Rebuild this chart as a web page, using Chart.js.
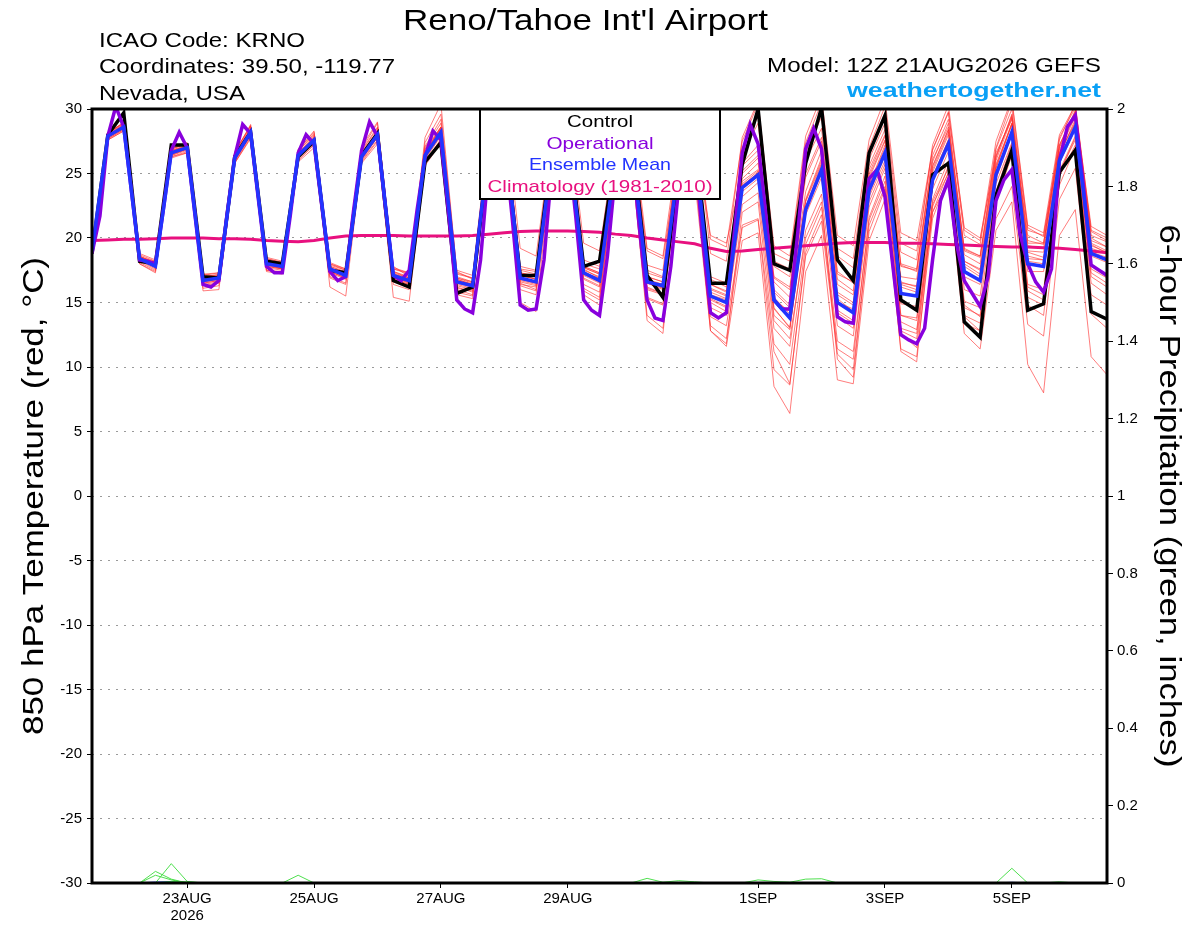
<!DOCTYPE html>
<html>
<head>
<meta charset="utf-8">
<title>Reno/Tahoe Int'l Airport - GEFS</title>
<script src="https://cdn.jsdelivr.net/npm/chart.js@4.4.0/dist/chart.umd.min.js"></script>
<style>
  html, body { margin: 0; padding: 0; background: #fff; }
  canvas { display: block; }
</style>
</head>
<body>
<canvas id="mycanvas" width="1200" height="927"></canvas>
<script>
// 12Z 21AUG2026 run, 6-hourly steps out to 384 h (operational is 3-hourly)

// x axis labels (hours after 12Z 21AUG)
var tickHours = [36, 84, 132, 180, 252, 300, 348];
var tickLabels = [["23AUG", "2026"], "25AUG", "27AUG", "29AUG", "1SEP", "3SEP", "5SEP"];

// 850 hPa temperature, deg C
var control = [18.8, 28.0,29.7,18.2,18.0, 27.2,27.2,17.0,16.9, 26.3,28.2,18.2,18.0, 26.3,27.5,17.5,17.3,
  26.4,28.1,16.7,16.2, 25.9,27.4,15.7,16.2, 26.5,28.0,17.1,17.1, 26.8,28.3,17.8,18.2, 26.5,28.0,17.1,15.4,
  25.5,27.8,16.5,16.5, 25.7,30.0,18.0,17.5, 25.8,30.1,18.3,16.7, 26.6,29.5,15.2,14.4, 24.9,25.8,13.5,12.3,
  23.3,26.8,14.4,14.9, 25.1,26.8,14.3,13.7];

var ensMean = [19.0, 27.9,28.6,18.4,17.8, 26.6,27.0,16.7,16.9, 26.2,28.2,18.0,17.8, 26.4,27.6,17.6,17.1,
  26.3,28.0,17.1,16.7, 26.4,28.2,16.6,16.3, 26.8,28.3,16.9,16.6, 26.5,28.0,17.3,16.7, 26.0,27.6,16.6,16.3,
  25.8,27.3,15.5,15.0, 23.9,24.9,15.2,13.8, 22.2,25.3,15.0,14.2, 23.7,26.6,15.7,15.5, 24.5,27.3,17.4,16.7,
  24.9,28.2,18.0,17.8, 26.0,28.6,18.8,18.3];

// operational run, every 3 h
var operational = [18.8,21.7,27.9,30.2,28.6,23.5,18.3,18.2, 18.0,22.2,26.8,28.2,27.0,21.7,16.4,16.2,
  16.7,21.7,26.3,28.8,28.1,22.9,17.8,17.3, 17.3,21.7,26.6,28.0,27.3,22.4,17.4,16.7,
  17.0,22.2,26.8,29.0,27.9,22.4,17.1,16.7, 17.5,22.2,26.3,28.3,27.6,21.7,15.2,14.5,
  14.2,18.3,25.5,28.6,27.6,21.5,14.8,14.4, 14.5,18.3,25.5,28.5,27.5,21.7,15.2,14.4,
  14.0,18.6,25.0,28.0,27.5,21.0,15.2,13.8, 13.6,17.8,24.0,27.5,27.0,20.0,14.2,13.8,
  14.2,20.4,26.6,28.8,27.3,21.7,15.2,14.5, 14.5,20.4,26.9,28.5,26.9,20.4,13.9,13.5,
  13.4,19.1,24.6,25.3,23.2,17.8,12.5,12.1, 11.8,13.0,18.3,22.9,24.5,19.6,16.7,15.7,
  14.7,17.0,22.9,24.5,25.3,20.4,18.0,16.6, 15.8,17.6,26.0,28.6,29.5,24.2,17.9,17.5,
  17.1];

var climatology = [19.8, 19.85,19.9,19.9,19.95, 20.0,20.0,20.0,19.95, 19.95,19.9,19.8,19.75, 19.7,19.8,20.0,20.15,
  20.2,20.2,20.2,20.15, 20.15,20.15,20.15,20.2, 20.3,20.4,20.5,20.55, 20.55,20.55,20.5,20.45, 20.3,20.2,20.0,19.85,
  19.7,19.55,19.2,18.95, 19.0,19.1,19.2,19.3, 19.4,19.5,19.6,19.65, 19.65,19.65,19.6,19.6, 19.55,19.5,19.45,19.4,
  19.35,19.3,19.3,19.25, 19.2,19.1,19.0,18.85];

// ensemble members
var m01 = [19.2, 28.1,29.0,18.6,18.1, 26.9,27.4,17.0,17.2, 26.5,28.6,18.3,18.0, 26.8,28.0,17.9,17.5, 26.7,28.5,17.6,17.2, 27.0,28.9,17.3,16.9, 27.5,29.1,17.6,17.4, 27.3,29.0,18.0,17.6, 27.1,28.8,17.5,17.0, 26.9,28.6,16.8,16.2, 26.5,28.9,17.8,17.0, 26.0,28.5,17.4,16.5, 26.1,28.9,18.0,17.6, 26.4,29.2,19.0,18.5, 26.3,29.5,19.4,19.2, 27.2,29.8,19.8,19.3];
var m02 = [18.9, 27.7,28.4,18.2,17.6, 26.3,26.7,16.4,16.6, 25.9,27.9,17.7,17.5, 26.1,27.3,17.3,16.8, 26.0,27.6,16.6,16.2, 25.8,27.7,16.0,15.6, 26.2,27.8,16.3,15.9, 25.9,27.3,16.4,15.8, 25.2,26.7,15.4,14.9, 24.6,25.8,13.9,13.2, 21.0,21.5,11.2,8.7, 18.6,21.3,11.0,9.8, 20.5,23.8,12.8,12.2, 22.0,25.1,14.6,14.0, 22.8,26.4,15.9,15.2, 24.1,27.0,16.5,15.6];
var m03 = [19.0, 27.9,28.7,18.5,17.9, 26.7,27.1,16.9,17.1, 26.3,28.3,18.0,17.6, 26.2,27.5,17.4,16.9, 26.1,27.8,16.9,16.5, 26.2,28.0,16.2,15.8, 26.4,27.9,16.5,16.0, 25.6,26.9,15.9,15.2, 25.0,26.2,14.0,13.0, 23.8,24.6,12.8,11.6, 19.8,20.4,8.5,6.4, 17.4,20.2,9.0,8.7, 19.8,23.0,11.4,10.8, 21.5,24.8,13.4,12.8, 23.6,27.3,16.2,15.6, 25.0,27.8,17.3,16.5];
var m04 = [19.1, 28.0,28.8,18.6,18.0, 26.8,27.2,17.1,17.3, 26.6,28.7,18.4,18.1, 26.9,28.2,18.0,17.5, 26.8,28.6,17.6,17.3, 27.1,29.2,17.2,16.9, 27.6,29.4,17.8,17.5, 27.6,29.3,18.3,17.8, 27.4,29.4,19.2,18.6, 27.5,29.8,18.8,18.2, 27.8,30.6,18.8,18.2, 27.4,30.5,19.2,18.4, 27.0,30.2,19.6,19.0, 26.8,29.8,20.2,19.5, 27.0,30.6,20.8,20.1, 27.6,30.4,20.5,19.8];
var m05 = [18.8, 27.8,28.5,18.3,17.7, 26.5,26.9,16.6,16.8, 26.0,28.1,17.8,17.6, 26.3,27.6,17.6,17.0, 26.2,27.9,17.0,16.5, 26.5,28.4,16.7,16.4, 26.9,28.6,17.1,16.8, 26.8,28.4,17.6,16.9, 26.3,28.0,16.7,16.1, 25.7,27.2,15.2,14.6, 24.1,25.0,14.6,13.0, 22.4,25.7,14.2,13.4, 23.2,26.0,14.0,13.6, 22.8,25.4,14.8,13.9, 21.5,24.0,13.3,12.4, 23.0,25.4,14.1,13.0];
var m06 = [19.0, 28.2,28.9,18.8,18.3, 26.4,26.8,17.2,17.0, 26.4,28.0,18.5,18.2, 26.6,27.8,18.1,17.6, 26.6,28.3,17.8,17.0, 26.9,28.6,17.0,16.6, 27.2,28.8,17.2,16.8, 26.7,28.2,17.8,17.3, 26.5,28.1,19.0,18.4, 26.2,27.6,16.1,15.6, 25.2,26.4,16.6,15.4, 23.6,26.8,16.8,15.9, 25.3,28.0,17.9,17.4, 26.1,28.6,19.2,18.6, 26.6,29.2,19.8,19.5, 27.8,30.1,20.9,20.2];
var m07 = [19.0, 27.6,28.3,18.0,17.3, 26.2,26.6,16.1,16.3, 25.8,27.7,17.4,17.2, 25.9,27.0,16.9,16.4, 25.8,27.3,15.4,15.1, 25.6,27.4,15.6,15.3, 25.9,27.6,16.0,15.6, 25.6,27.0,16.1,15.4, 24.9,26.4,13.6,12.6, 24.2,25.6,12.8,11.8, 22.0,22.8,11.8,10.2, 19.5,22.4,12.0,11.2, 21.4,24.4,12.6,11.5, 22.6,25.0,13.9,12.8, 23.1,26.6,14.8,14.0, 24.8,27.2,15.6,14.8];
var m08 = [19.1, 28.0,28.6,18.4,17.9, 26.7,27.2,16.8,17.0, 26.4,28.4,18.1,17.9, 26.5,27.7,17.7,17.2, 26.4,28.1,17.2,16.9, 26.6,28.5,16.9,16.5, 27.0,28.7,17.3,17.0, 27.0,28.6,17.7,17.2, 26.8,28.5,17.3,16.9, 26.9,28.6,17.0,16.5, 27.0,29.4,18.2,17.6, 26.6,29.4,18.6,17.7, 26.4,29.5,18.9,18.3, 27.2,30.3,20.6,19.8, 27.5,30.8,21.0,20.4, 28.0,30.3,20.0,19.3];
var m09 = [18.9, 27.8,28.5,18.3,17.8, 26.6,26.9,16.5,16.7, 26.1,28.0,17.9,17.7, 26.3,27.4,17.4,16.9, 26.2,27.8,16.9,16.6, 26.3,28.1,16.5,16.2, 26.7,28.2,16.8,16.5, 26.4,27.8,17.1,16.5, 25.8,27.3,16.2,15.7, 25.4,26.9,15.3,14.7, 23.6,24.6,14.5,13.1, 21.8,24.7,13.9,13.0, 22.8,25.7,13.5,12.9, 22.0,24.4,12.6,11.4, 20.6,22.8,10.2,8.0, 20.2,22.2,10.8,9.4];
var m10 = [19.0, 27.9,28.7,18.5,18.0, 26.6,27.0,16.9,16.9, 26.3,28.3,18.1,17.9, 26.4,27.7,17.6,17.2, 26.4,28.0,17.1,16.8, 26.5,28.3,16.7,16.4, 26.7,28.3,16.8,16.5, 26.6,28.1,17.4,16.8, 26.2,27.7,16.6,16.4, 26.3,27.9,16.4,15.8, 25.8,27.2,17.0,16.2, 25.0,27.8,17.2,16.6, 25.6,28.4,17.8,17.5, 25.9,28.9,19.1,18.6, 26.9,30.0,20.6,20.2, 27.0,29.5,19.5,18.8];
var m11 = [19.1, 28.1,28.9,18.5,18.2, 26.9,27.3,17.0,17.1, 26.6,28.8,18.3,18.0, 26.7,28.1,17.8,17.4, 26.9,28.9,17.4,17.0, 27.8,30.4,17.4,16.8, 27.9,29.8,17.5,17.2, 27.2,28.8,17.7,17.2, 26.7,28.4,17.0,16.6, 26.4,27.9,20.2,19.6, 25.0,26.2,15.8,14.6, 22.9,26.0,15.6,14.8, 24.6,27.5,16.6,16.2, 25.3,28.2,18.2,17.5, 25.6,28.8,18.9,18.5, 26.6,28.9,19.4,18.9];
var m12 = [18.9, 27.7,28.4,18.1,17.5, 26.4,26.9,16.3,16.5, 26.0,28.0,17.5,17.4, 26.2,27.5,16.2,15.5, 26.1,27.8,16.8,16.4, 26.2,28.1,16.1,15.9, 26.6,28.2,16.4,16.2, 26.3,27.7,16.9,16.3, 25.7,27.1,16.0,15.6, 25.2,26.5,14.6,14.0, 22.6,23.5,13.0,11.6, 20.6,23.4,13.2,12.4, 22.4,25.4,14.0,13.8, 23.8,26.7,16.0,15.5, 24.6,28.0,17.4,17.4, 25.8,28.4,18.6,18.1];
var m13 = [19.0, 28.0,28.7,18.4,17.8, 26.6,27.0,16.8,16.9, 26.2,28.2,18.0,17.8, 26.4,27.6,17.6,17.1, 26.3,28.1,17.2,16.8, 26.4,28.3,16.6,16.2, 26.8,28.4,16.9,16.6, 26.5,27.9,17.2,16.6, 26.0,27.5,16.5,16.0, 25.9,27.3,15.6,15.2, 24.6,25.8,16.0,14.8, 23.0,26.2,15.8,15.0, 24.8,27.6,17.0,16.8, 25.6,28.4,18.7,18.0, 26.2,29.6,19.6,19.6, 27.1,29.8,20.2,19.7];
var m14 = [19.0, 27.9,28.6,18.3,17.7, 26.5,26.9,16.6,16.8, 26.1,28.1,17.9,17.6, 26.3,27.5,17.4,16.9, 26.2,27.9,16.8,16.4, 26.1,27.9,16.3,16.0, 26.5,28.1,16.6,16.3, 26.2,27.6,16.8,16.2, 25.6,27.2,16.1,15.7, 25.5,27.0,15.0,14.3, 23.2,24.3,13.6,12.2, 20.0,22.8,10.6,9.2, 21.0,24.0,11.2,10.4, 22.4,25.6,14.0,13.4, 23.4,26.8,15.4,14.8, 25.1,27.6,17.0,16.2];
var m15 = [19.1, 28.1,28.8,18.6,18.0, 26.8,27.1,16.9,17.0, 26.4,28.5,18.2,17.9, 26.6,27.9,17.8,17.3, 26.5,28.3,17.4,16.9, 26.6,28.6,16.9,16.6, 27.1,28.9,17.3,17.1, 27.0,28.7,17.8,17.3, 26.7,28.2,17.0,16.6, 26.4,28.0,16.4,15.9, 25.6,26.8,16.9,16.0, 24.7,27.5,16.4,15.6, 25.0,27.9,16.2,15.8, 24.7,27.6,17.8,17.0, 25.4,28.9,18.6,18.3, 26.4,29.2,18.9,18.5];
var m16 = [18.8, 27.6,28.3,18.0,17.4, 26.3,26.6,15.9,16.0, 25.8,27.8,17.5,17.3, 26.0,27.2,17.0,16.5, 25.9,27.5,16.4,16.0, 25.9,27.6,15.8,15.5, 26.1,27.6,15.0,14.3, 25.9,27.3,15.6,14.8, 25.0,26.6,15.3,14.8, 24.2,25.4,13.2,12.2, 20.8,21.4,9.8,8.6, 18.9,21.8,11.4,10.6, 21.6,24.8,13.0,12.6, 23.0,26.0,15.1,14.6, 24.2,27.4,16.4,16.0, 25.2,27.9,17.6,16.9];
var m17 = [19.2, 28.2,28.9,18.7,18.2, 26.9,27.3,17.2,17.3, 26.7,28.7,18.4,18.1, 26.8,28.3,18.0,17.6, 27.1,29.0,17.7,17.3, 27.4,29.6,17.5,17.1, 28.0,30.2,19.2,18.6, 27.8,29.9,19.6,19.0, 27.6,29.6,17.9,17.5, 27.3,29.5,19.9,19.3, 27.5,30.4,19.4,18.6, 27.9,31.0,20.2,19.4, 27.6,30.8,20.4,19.8, 26.9,29.7,20.8,20.0, 26.4,29.4,20.2,19.6, 27.2,29.9,20.6,20.0];
var m18 = [19.0, 27.8,28.5,18.3,17.8, 26.6,27.0,16.7,16.9, 26.2,28.2,18.0,17.7, 26.4,27.6,17.5,17.0, 26.3,28.0,17.0,16.6, 26.4,28.2,16.4,16.1, 26.7,28.2,16.7,16.4, 26.5,28.0,17.2,16.7, 26.0,27.4,16.5,16.1, 25.6,27.0,15.4,15.0, 24.0,25.1,14.0,12.9, 22.2,25.0,14.4,13.6, 23.4,26.4,14.9,14.7, 24.8,27.6,17.0,16.4, 25.4,28.8,18.2,18.0, 26.2,28.8,18.8,18.4];
var m19 = [18.9, 27.9,28.6,18.4,17.9, 26.5,27.0,16.5,16.7, 26.2,28.2,17.8,17.6, 26.4,27.7,17.5,17.1, 26.3,28.1,17.0,16.7, 26.7,28.6,16.8,16.4, 26.9,28.5,16.9,16.6, 26.7,28.2,17.3,16.9, 26.1,27.6,16.7,16.4, 26.0,27.6,16.0,15.5, 24.4,25.3,15.2,14.3, 22.8,25.8,15.3,14.3, 24.1,27.2,16.5,16.3, 25.5,28.4,18.2,17.6, 26.0,29.3,19.0,18.9, 26.8,29.4,19.6,19.0];
var m20 = [19.0, 28.0,28.7,18.5,17.9, 26.7,27.1,16.8,17.0, 26.3,28.3,18.1,17.9, 26.5,27.8,17.7,17.2, 26.4,28.2,17.3,16.9, 26.6,28.5,16.8,16.4, 26.9,28.5,17.1,16.8, 26.8,28.3,17.5,17.0, 26.2,27.7,16.8,16.4, 25.9,27.4,15.8,15.3, 24.2,25.2,15.4,14.1, 22.4,25.4,15.0,14.5, 24.0,27.0,16.4,16.0, 25.1,28.0,18.0,17.2, 25.7,28.9,18.4,18.3, 26.6,29.0,19.2,18.8];
var members = [m01, m02, m03, m04, m05, m06, m07, m08, m09, m10, m11, m12, m13, m14, m15, m16, m17, m18, m19, m20];

// 6-hour precipitation, inches (members that had any, plus the mean)
var pcpA = [0,0,0,0,0.03, 0.01,0,0,0,0, 0,0,0,0,0, 0,0,0,0,0, 0,0,0,0,0, 0,0,0,0,0, 0,0,0,0,0, 0,0,0,0,0, 0,0,0,0,0, 0,0,0,0,0, 0,0,0,0,0, 0,0,0,0,0, 0,0,0,0,0];
var pcpB = [0,0,0,0,0, 0.05,0.004,0,0,0, 0,0,0,0,0, 0,0,0,0,0, 0,0,0,0,0, 0,0,0,0,0, 0,0,0,0,0, 0,0,0,0,0, 0,0,0,0,0, 0,0,0,0,0, 0,0,0,0,0, 0,0,0,0,0, 0,0,0,0,0];
var pcpC = [0,0,0,0,0.02, 0.008,0,0,0,0, 0,0,0,0,0, 0,0,0,0,0, 0,0,0,0,0, 0,0,0,0,0, 0,0,0,0,0, 0,0,0,0,0, 0,0,0,0,0, 0,0,0,0,0, 0,0,0,0,0, 0,0,0,0,0, 0,0,0,0,0];
var pcpD = [0,0,0,0,0, 0,0,0,0,0, 0,0,0,0.02,0, 0,0,0,0,0, 0,0,0,0,0, 0,0,0,0,0, 0,0,0,0,0, 0,0,0,0,0, 0,0,0,0,0, 0,0,0,0,0, 0,0,0,0,0, 0,0,0,0,0, 0,0,0,0,0];
var pcpE = [0,0,0,0,0, 0,0,0,0,0, 0,0,0,0,0, 0,0,0,0,0, 0,0,0,0,0, 0,0,0,0,0, 0,0,0,0,0, 0.012,0.002,0.006,0.003,0, 0,0,0,0,0, 0,0,0,0,0, 0,0,0,0,0, 0,0,0,0,0, 0,0,0,0,0];
var pcpF = [0,0,0,0,0, 0,0,0,0,0, 0,0,0,0,0, 0,0,0,0,0, 0,0,0,0,0, 0,0,0,0,0, 0,0,0,0,0, 0,0,0,0,0, 0,0,0.008,0.004,0.002, 0.01,0.011,0,0,0, 0,0,0,0,0, 0,0,0,0,0, 0,0,0,0,0];
var pcpG = [0,0,0,0,0, 0,0,0,0,0, 0,0,0,0,0, 0,0,0,0,0, 0,0,0,0,0, 0,0,0,0,0, 0,0,0,0,0, 0,0,0,0,0, 0,0,0,0,0, 0,0,0,0,0, 0,0,0,0,0, 0,0,0,0.038,0, 0,0,0,0,0];
var pcpH = [0,0,0,0,0, 0.004,0.003,0,0,0, 0,0,0,0,0, 0,0,0,0,0, 0,0,0,0,0, 0,0,0,0,0, 0,0,0,0,0, 0,0,0,0,0, 0,0,0,0,0, 0,0,0,0,0, 0,0,0,0,0, 0,0,0,0,0, 0,0.003,0,0,0];
var pcpMean = [0,0,0,0,0.003, 0.004,0.001,0,0,0, 0,0,0,0,0, 0,0,0,0,0, 0,0,0,0,0, 0,0,0,0,0, 0,0,0,0,0, 0,0,0,0,0, 0,0,0,0,0, 0,0,0,0,0, 0,0,0,0,0, 0,0,0,0.002,0, 0,0,0,0,0];
var pcpMembers = [pcpA, pcpB, pcpC, pcpD, pcpE, pcpF, pcpG, pcpH];

var FONT = '"Liberation Sans", Arial, Helvetica, sans-serif';

function toPoints(vals, step) {
    return vals.map(function (v, i) { return { x: i * step, y: v }; });
}

// text drawn at a given size, then squeezed/stretched to a measured width
function fitText(ctx, text, x, y, size, width, opts) {
    opts = opts || {};
    ctx.save();
    ctx.font = (opts.bold ? 'bold ' : '') + size + 'px ' + FONT;
    var sx = width / ctx.measureText(text).width;
    ctx.translate(x, y);
    if (opts.rot) ctx.rotate(opts.rot);
    ctx.scale(sx, 1);
    ctx.textAlign = opts.align || 'left';
    ctx.textBaseline = 'alphabetic';
    ctx.fillStyle = opts.color || '#000';
    ctx.fillText(text, 0, 0);
    ctx.restore();
}

var datasets = [];

datasets.push({ label: 'Ensemble Mean', data: toPoints(ensMean, 6), borderColor: '#2233ff', borderWidth: 3.5, yAxisID: 'y', order: 0 });
datasets.push({ label: 'Operational', data: toPoints(operational, 3), borderColor: '#8800dd', borderWidth: 3.5, yAxisID: 'y', order: 1 });
datasets.push({ label: 'Control', data: toPoints(control, 6), borderColor: '#000000', borderWidth: 3.5, yAxisID: 'y', order: 2 });
datasets.push({ label: 'Climatology', data: toPoints(climatology, 6), borderColor: '#e8107f', borderWidth: 3, yAxisID: 'y', order: 3 });

for (var k = 0; k < members.length; k++) {
    datasets.push({ label: 'member ' + (k + 1), data: toPoints(members[k], 6), borderColor: 'rgba(255,45,45,0.62)', borderWidth: 1, yAxisID: 'y', order: 4 });
}
for (var p = 0; p < pcpMembers.length; p++) {
    datasets.push({ label: 'pcp ' + (p + 1), data: toPoints(pcpMembers[p], 6), borderColor: 'rgba(60,220,60,0.9)', borderWidth: 1, yAxisID: 'y2', order: 5 });
}
datasets.push({ label: 'pcp mean', data: toPoints(pcpMean, 6), borderColor: 'rgba(60,80,255,0.8)', borderWidth: 1, yAxisID: 'y2', order: 5 });

var decorations = {
    id: 'decorations',
    beforeDraw: function (chart) {
        var ctx = chart.ctx;
        ctx.save();
        ctx.fillStyle = '#fff';
        ctx.fillRect(0, 0, chart.width, chart.height);
        ctx.restore();
    },
    afterDatasetsDraw: function (chart) {
        var ctx = chart.ctx;
        var a = chart.chartArea;

        // legend box
        ctx.save();
        ctx.fillStyle = '#fff';
        ctx.fillRect(480, a.top, 240, 199 - a.top);
        ctx.strokeStyle = '#000';
        ctx.lineWidth = 2;
        ctx.strokeRect(480, a.top, 240, 199 - a.top);
        ctx.restore();
        fitText(ctx, 'Control', 600, 127, 17, 66, { align: 'center' });
        fitText(ctx, 'Operational', 600, 148.5, 17, 107, { align: 'center', color: '#8800dd' });
        fitText(ctx, 'Ensemble Mean', 600, 170, 17, 142, { align: 'center', color: '#2233ff' });
        fitText(ctx, 'Climatology (1981-2010)', 600, 191.5, 17, 225, { align: 'center', color: '#e8107f' });

        // frame
        ctx.save();
        ctx.strokeStyle = '#000';
        ctx.lineWidth = 3;
        ctx.strokeRect(a.left, a.top, a.right - a.left, a.bottom - a.top);
        ctx.restore();

        // header
        fitText(ctx, "Reno/Tahoe Int'l Airport", 585.5, 29.5, 30, 365, { align: 'center' });
        fitText(ctx, 'ICAO Code: KRNO', 99, 46.7, 21, 206);
        fitText(ctx, 'Coordinates: 39.50, -119.77', 99, 72.7, 21, 296);
        fitText(ctx, 'Nevada, USA', 99, 99.5, 21, 146);
        fitText(ctx, 'Model: 12Z 21AUG2026 GEFS', 1101, 71.7, 21, 334, { align: 'right' });
        fitText(ctx, 'weathertogether.net', 1101, 96.7, 21, 254, { align: 'right', bold: true, color: '#09a0f6' });

        // axis titles
        var midY = (a.top + a.bottom) / 2;
        fitText(ctx, '850 hPa Temperature (red, \u00B0C)', 43, midY, 30, 478, { align: 'center', rot: -Math.PI / 2 });
        fitText(ctx, '6-hour Precipitation (green, inches)', 1160, midY, 30, 543, { align: 'center', rot: Math.PI / 2 });
    }
};

var ctx = document.getElementById('mycanvas');

var chart = new Chart(ctx, {
    type: 'line',
    data: { datasets: datasets },
    plugins: [decorations],
    options: {
        responsive: false,
        animation: false,
        devicePixelRatio: 1,
        layout: { padding: { top: 109, left: 0, right: 0, bottom: 0 } },
        elements: {
            point: { radius: 0, hoverRadius: 0 },
            line: { tension: 0, fill: false, borderJoinStyle: 'miter' }
        },
        plugins: {
            legend: { display: false },
            tooltip: { enabled: false }
        },
        events: [],
        scales: {
            x: {
                type: 'linear',
                position: 'bottom',
                min: 0,
                max: 384,
                afterFit: function (scale) { scale.height = 44; },
                afterBuildTicks: function (scale) {
                    scale.ticks = tickHours.map(function (h) { return { value: h }; });
                },
                grid: { display: true, drawOnChartArea: false, drawTicks: true, tickLength: 5, tickColor: '#000', tickWidth: 1 },
                border: { display: false },
                ticks: {
                    autoSkip: false,
                    maxRotation: 0,
                    padding: 2,
                    color: '#000',
                    font: { family: FONT, size: 15, lineHeight: 1.13 },
                    callback: function (value, index) { return tickLabels[index]; }
                }
            },
            y: {
                position: 'left',
                min: -30,
                max: 30,
                afterFit: function (scale) { scale.width = 92; },
                grid: { color: '#9a9a9a', lineWidth: 1, tickLength: 5, tickColor: '#000', tickWidth: 1, tickBorderDash: [] },
                border: { display: false, dash: [2, 6] },
                ticks: {
                    stepSize: 5,
                    padding: 5,
                    color: '#000',
                    font: { family: FONT, size: 15 }
                }
            },
            y2: {
                position: 'right',
                min: 0,
                max: 2,
                afterFit: function (scale) { scale.width = 93; },
                grid: { drawOnChartArea: false, tickLength: 6, tickColor: '#000', tickWidth: 1 },
                border: { display: false },
                ticks: {
                    stepSize: 0.2,
                    padding: 4,
                    color: '#000',
                    font: { family: FONT, size: 15 },
                    callback: function (v) { return String(+v.toFixed(1)); }
                }
            }
        }
    }
});
</script>
</body>
</html>
